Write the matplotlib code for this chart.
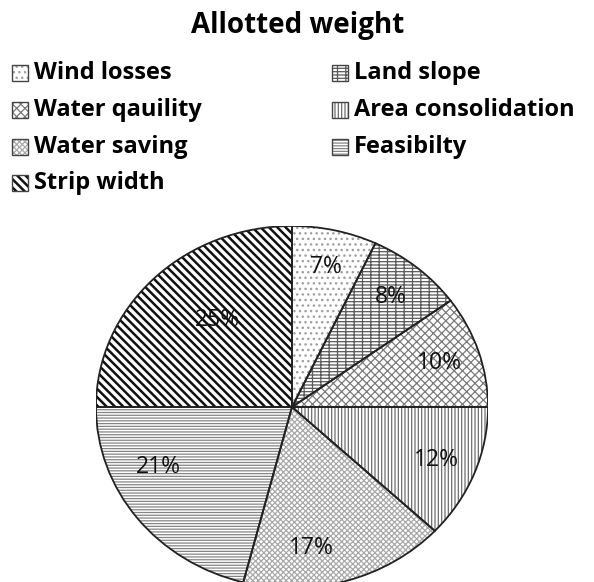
import matplotlib
matplotlib.use('Agg')
import matplotlib.pyplot as plt
from matplotlib.patches import Wedge, Rectangle

plt.rcParams['font.family'] = ['Open Sans', 'DejaVu Sans']

# weights per criterion (percent)
criteria = ['Wind losses', 'Land slope', 'Water qauility', 'Area consolidation',
            'Water saving', 'Feasibilty', 'Strip width']
weights = [7, 8, 10, 12, 17, 21, 25]

hatches = ['...', '-----||', 'xxxx', '|||||', 'xxxxxx', '------', '\\\\\\\\']
hatch_colors = ['#a0a0a0', '#5a5a5a', '#7a7a7a', '#6e6e6e', '#a8a8a8', '#858585', '#111111']
hatch_lw = [1.0, 0.9, 0.9, 0.9, 0.9, 0.9, 1.8]

fig = plt.figure(figsize=(5.94, 5.82), dpi=100)
ax = fig.add_axes([96 / 594, -6 / 582, 392 / 594, 362 / 582])

wedges, texts, autotexts = ax.pie(
    weights, startangle=90, counterclock=False, radius=1,
    autopct='%1.0f%%', pctdistance=0.79,
    textprops={'fontsize': 16.5, 'color': '#111111'},
    wedgeprops={'linewidth': 0})


def style_patch(p, h, c, lw):
    p.set_facecolor('white')
    p.set_hatch(h)
    p.set_edgecolor(c)
    p.set_linewidth(0)
    if hasattr(p, 'set_hatch_linewidth'):
        p.set_hatch_linewidth(lw)


for w, h, c, lw in zip(wedges, hatches, hatch_colors, hatch_lw):
    style_patch(w, h, c, lw)
    # black outline on top of the hatched fill
    ax.add_patch(Wedge(w.center, w.r, w.theta1, w.theta2, facecolor='none',
                       edgecolor='#222222', linewidth=1.3))

# label spots nudged like the original layout
autotexts[4].set_position((0.10, -0.78))
autotexts[5].set_position((-0.68, -0.33))
autotexts[6].set_position((-0.38, 0.48))

ax.set_aspect('auto')
ax.set_xlim(-1, 1)
ax.set_ylim(-1, 1)

fig.text(298 / 594, 1 - 26 / 582, 'Allotted weight', ha='center', va='center',
         fontsize=20, fontweight='bold')

# legend laid out row by row, two columns
col_x = [12, 332]
row_y = [73, 110, 147, 183]
box = 16
for i, name in enumerate(criteria):
    x = col_x[i % 2]
    y = row_y[i // 2]
    r = Rectangle((x / 594, 1 - (y + box / 2) / 582), box / 594, box / 582,
                  transform=fig.transFigure)
    style_patch(r, hatches[i], hatch_colors[i], hatch_lw[i])
    fig.add_artist(r)
    fig.add_artist(Rectangle((x / 594, 1 - (y + box / 2) / 582), box / 594, box / 582,
                             transform=fig.transFigure, facecolor='none',
                             edgecolor='#444444', linewidth=1.0))
    fig.text((x + box + 6) / 594, 1 - y / 582, name, ha='left', va='center',
             fontsize=17, fontweight='bold')

fig.savefig('out.png', dpi=100)
